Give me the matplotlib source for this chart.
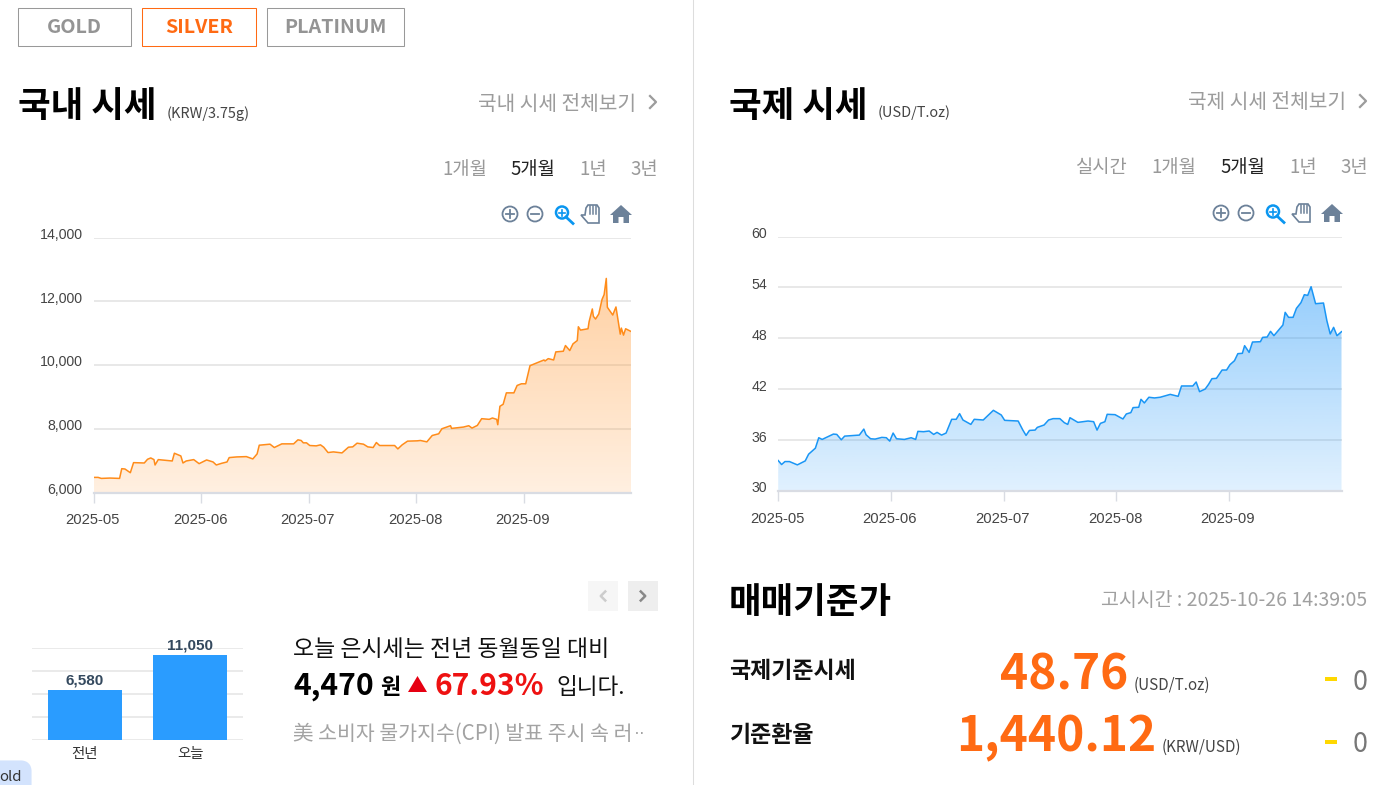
# Silver price page: domestic / international area charts plus comparison bars
import numpy as np
import matplotlib
matplotlib.use('Agg')
import matplotlib.pyplot as plt
from matplotlib.patches import Rectangle, Polygon, Circle, FancyBboxPatch
from matplotlib.transforms import ScaledTranslation

plt.rcParams['font.family'] = ['Noto Sans CJK KR', 'DejaVu Sans']

# ------------------ DATA ------------------
# x is counted in axis months from 2025-05
month_labels = ['2025-05', '2025-06', '2025-07', '2025-08', '2025-09']

krw_x = [0, .04, .07, .15, .24, .26, .29, .34, .37, .47, .50, .53, .56, .57, .60, .73, .75, .78, .81, .83,
         .86, .93, .98, 1.05, 1.11, 1.14, 1.19, 1.24, 1.26, 1.33, 1.42, 1.48, 1.52, 1.54, 1.64, 1.68, 1.75,
         1.86, 1.90, 1.93, 1.95, 1.98, 2.01, 2.07, 2.11, 2.14, 2.18, 2.23, 2.31, 2.37, 2.41, 2.45, 2.51,
         2.55, 2.60, 2.63, 2.66, 2.80, 2.83, 2.87, 2.92, 3.01, 3.04, 3.10, 3.15, 3.21, 3.24, 3.32, 3.33,
         3.44, 3.49, 3.52, 3.57, 3.61, 3.68, 3.71, 3.75, 3.76, 3.78, 3.81, 3.84, 3.91, 3.94, 3.98, 4.02,
         4.06, 4.19, 4.20, 4.23, 4.28, 4.30, 4.37, 4.39, 4.43, 4.46, 4.50, 4.51, 4.53, 4.60, 4.61, 4.64,
         4.65, 4.67, 4.70, 4.73, 4.75, 4.77, 4.78, 4.83, 4.86, 4.90, 4.91, 4.93, 4.95, 5.0]
krw_y = [6474, 6474, 6442, 6453, 6442, 6747, 6737, 6621, 6937, 6926, 7042, 7084, 7032, 6863, 7032, 6989,
         7232, 7189, 7147, 6926, 6989, 7032, 6905, 7021, 6958, 6863, 6916, 6958, 7095, 7116, 7126, 7053,
         7211, 7484, 7516, 7411, 7526, 7526, 7653, 7632, 7558, 7558, 7474, 7463, 7495, 7421, 7253, 7274,
         7242, 7421, 7432, 7547, 7516, 7432, 7411, 7568, 7474, 7474, 7368, 7495, 7611, 7621, 7632, 7589,
         7789, 7842, 8000, 8095, 8011, 8053, 8095, 8021, 8105, 8316, 8295, 8337, 8295, 8126, 8705, 8768,
         9126, 9126, 9358, 9411, 9411, 9979, 10158, 10126, 10200, 10158, 10411, 10432, 10611, 10453,
         10663, 10768, 11200, 11095, 11137, 11358, 11758, 11526, 11442, 11600, 12053, 12211, 12716,
         11811, 11568, 11821, 10968, 11158, 10937, 11137, 11053]

usd_x = [0, .03, .06, .10, .17, .24, .27, .33, .36, .39, .49, .52, .56, .59, .72, .76, .78, .82, .86, .92,
         .96, .99, 1.02, 1.05, 1.12, 1.18, 1.22, 1.24, 1.29, 1.34, 1.38, 1.41, 1.45, 1.49, 1.54, 1.58,
         1.61, 1.64, 1.71, 1.74, 1.82, 1.86, 1.91, 1.98, 2.01, 2.13, 2.17, 2.20, 2.23, 2.28, 2.30, 2.36,
         2.40, 2.44, 2.50, 2.54, 2.57, 2.59, 2.66, 2.75, 2.80, 2.83, 2.86, 2.90, 2.92, 2.99, 3.06, 3.09,
         3.13, 3.15, 3.20, 3.22, 3.25, 3.29, 3.34, 3.39, 3.43, 3.48, 3.55, 3.58, 3.68, 3.71, 3.74, 3.79,
         3.82, 3.85, 3.89, 3.94, 3.98, 4.01, 4.05, 4.08, 4.12, 4.14, 4.18, 4.21, 4.28, 4.30, 4.34, 4.37,
         4.40, 4.48, 4.50, 4.53, 4.57, 4.60, 4.64, 4.67, 4.70, 4.73, 4.77, 4.84, 4.87, 4.90, 4.93, 4.96, 5.0]
usd_y = [33.59, 33.12, 33.47, 33.47, 33.08, 33.55, 34.34, 35.05, 36.28, 36.08, 36.71, 36.67, 36.04, 36.47,
         36.59, 37.30, 36.63, 36.16, 36.12, 36.32, 36.28, 35.88, 36.83, 36.16, 36.08, 36.28, 36.08, 37.03,
         36.99, 37.07, 36.67, 36.91, 36.59, 36.83, 38.45, 38.45, 39.12, 38.37, 37.85, 38.45, 38.37, 38.88,
         39.51, 38.96, 38.33, 38.25, 37.22, 36.55, 37.14, 37.18, 37.50, 37.78, 38.37, 38.53, 38.53, 38.05,
         37.85, 38.64, 38.09, 38.25, 38.17, 37.18, 37.97, 38.17, 39.04, 39.00, 38.49, 39.08, 39.24, 39.83,
         39.87, 40.81, 40.38, 41.05, 40.97, 41.05, 41.20, 41.39, 41.16, 42.38, 42.38, 42.85, 41.71, 42.02,
         42.57, 43.24, 43.28, 44.26, 44.26, 44.89, 45.36, 46.19, 46.23, 47.13, 46.34, 47.56, 47.60, 48.11,
         48.15, 48.82, 48.31, 49.57, 51.06, 50.47, 50.47, 51.53, 52.20, 53.14, 53.06, 54.08, 52.08, 52.16,
         50.08, 48.51, 49.29, 48.31, 48.78]

krw_ticks = [6000, 8000, 10000, 12000, 14000]
usd_ticks = [30, 36, 42, 48, 54, 60]

bar_labels = ['전년', '오늘']
bar_values = [6580, 11050]
bar_ticks = [0, 3000, 6000, 9000, 12000]

W, H = 1387, 785
ORANGE = '#ff6a13'
GRAY = '#999999'
ICON = '#6c8199'
ARIAL = ['Liberation Sans', 'DejaVu Sans']

fig = plt.figure(figsize=(W / 100, H / 100), dpi=100)
fig.patch.set_facecolor('white')


def px_axes(x0, y0, x1, y1):
    return fig.add_axes([x0 / W, 1 - y1 / H, (x1 - x0) / W, (y1 - y0) / H])


# page layer in pixel coordinates
pg = fig.add_axes([0, 0, 1, 1], zorder=5)
pg.set_xlim(0, W)
pg.set_ylim(H, 0)
pg.axis('off')
pg.patch.set_alpha(0)


def txt(x, y, s, px, color='black', weight='normal', ha='left', va='center', family=None):
    kw = {'family': family} if family else {}
    pg.text(x, y, s, fontsize=px * 0.72, color=color, fontweight=weight, ha=ha, va=va, **kw)


def area_chart(box, x, y, ticks, line_c, rgb, a_top, a_bot, fmt):
    ax = px_axes(*box)
    ax.set_xlim(0, 5)
    ax.set_ylim(ticks[0], ticks[-1])
    ax.set_facecolor('none')
    for s in ['top', 'left', 'right']:
        ax.spines[s].set_visible(False)
    ax.spines['bottom'].set_color('#d9dce3')
    ax.spines['bottom'].set_linewidth(1.6)
    ax.grid(axis='y', color='#e2e2e2', lw=1.1, zorder=1)
    ax.set_axisbelow(True)
    ax.set_yticks(ticks)
    ax.set_yticklabels([fmt(t) for t in ticks], family=ARIAL, fontsize=10.2, color='#444444')
    ax.set_xticks(range(5))
    ax.set_xticklabels(month_labels, family=ARIAL, fontsize=10.6, color='#444444')
    ax.tick_params(axis='y', length=0, pad=8)
    ax.tick_params(axis='x', length=7, color='#d9dce3', width=1, pad=8)
    # y labels sit a little above their gridlines
    up = ScaledTranslation(0, 0.04, fig.dpi_scale_trans)
    for lab in ax.get_yticklabels():
        lab.set_transform(lab.get_transform() + up)
    left = ScaledTranslation(-0.01, 0, fig.dpi_scale_trans)
    for lab in ax.get_xticklabels():
        lab.set_transform(lab.get_transform() + left)
    # vertical gradient clipped to the area under the line
    grad = np.zeros((256, 1, 4))
    grad[..., 0], grad[..., 1], grad[..., 2] = rgb
    grad[..., 3] = np.linspace(a_top, a_bot, 256)[:, None]
    im = ax.imshow(grad, extent=[0, 5, ticks[0], max(y)], origin='upper', aspect='auto', zorder=2)
    poly = ax.fill_between(x, y, ticks[0], color='none')
    im.set_clip_path(poly.get_paths()[0], ax.transData)
    ax.set_xlim(0, 5)
    ax.set_ylim(ticks[0], ticks[-1])
    ax.plot(x, y, color=line_c, lw=1.1, zorder=3)
    return ax


def icons(x0, y):
    # zoom in, zoom out, magnifier, hand, home
    for cx, minus in [(x0, False), (x0 + 25, True)]:
        pg.add_patch(Circle((cx, y), 7.5, fill=False, ec=ICON, lw=1.3))
        pg.plot([cx - 4, cx + 4], [y, y], color=ICON, lw=1.3)
        if not minus:
            pg.plot([cx, cx], [y - 4, y + 4], color=ICON, lw=1.3)
    mx = x0 + 52
    pg.add_patch(Circle((mx, y - 1.5), 6, fill=False, ec='#0a96f0', lw=1.8))
    pg.plot([mx + 4, mx + 11], [y + 3, y + 9.5], color='#0a96f0', lw=2)
    pg.plot([mx - 3, mx + 3], [y - 1.5, y - 1.5], color='#0a96f0', lw=1.2)
    pg.plot([mx, mx], [y - 4.5, y + 1.5], color='#0a96f0', lw=1.2)
    hx = x0 + 71
    pg.add_patch(Polygon([(hx, y + 1), (hx + 4, y + 1), (hx + 5, y - 6), (hx + 7, y - 9), (hx + 16, y - 9),
                          (hx + 18, y - 6), (hx + 18, y + 9), (hx + 7, y + 9)], fc='white', ec=ICON, lw=1.2))
    for d in (9, 12, 15):
        pg.plot([hx + d, hx + d], [y - 8, y], color=ICON, lw=1.1)
    hm = x0 + 111
    pg.add_patch(Polygon([(hm - 11, y + 1), (hm, y - 9), (hm + 11, y + 1), (hm + 8, y + 1), (hm + 8, y + 9),
                          (hm + 2.5, y + 9), (hm + 2.5, y + 3), (hm - 2.5, y + 3), (hm - 2.5, y + 9),
                          (hm - 8, y + 9), (hm - 8, y + 1)], fc=ICON, ec='none'))


def chevron(x, y, size, color, lw=1.6, left=False):
    d = -size if left else size
    pg.plot([x - d / 2, x + d / 2, x - d / 2], [y - size, y, y + size], color=color, lw=lw)


# ------------------ TABS ------------------
for x0, x1, name, c in [(18, 131, 'GOLD', '#999999'), (142, 256, 'SILVER', ORANGE), (267, 404, 'PLATINUM', '#999999')]:
    pg.add_patch(Rectangle((x0, 8), x1 - x0, 38, fill=False, ec=c, lw=0.75))
    txt((x0 + x1) / 2, 27.5, name, 19.8, ORANGE if name == 'SILVER' else '#949494', 'bold', ha='center')

pg.plot([692.8, 692.8], [0, H], color='#dddddd', lw=0.75)

# ------------------ HEADERS ------------------
txt(18, 107, '국내 시세', 35.5, weight='bold')
txt(167, 114, '(KRW/3.75g)', 14.5, '#444444')
txt(636, 104, '국내 시세 전체보기', 20.3, '#9c9c9c', ha='right')
chevron(653, 102, 6, '#9c9c9c')
txt(729, 107, '국제 시세', 35.5, weight='bold')
txt(878, 113, '(USD/T.oz)', 14.5, '#444444')
txt(1346, 103, '국제 시세 전체보기', 20.3, '#9c9c9c', ha='right')
chevron(1363, 101, 6, '#9c9c9c')

for x, s, c in [(442, '1개월', GRAY), (510, '5개월', '#222222'), (579, '1년', GRAY), (630, '3년', GRAY)]:
    txt(x, 169, s, 18.7, c)
for x, s, c in [(1076, '실시간', GRAY), (1151, '1개월', GRAY), (1220, '5개월', '#222222'), (1289, '1년', GRAY), (1340, '3년', GRAY)]:
    txt(x, 168, s, 18.7, c)

icons(510, 214)
icons(1221, 213)

# ------------------ AREA CHARTS ------------------
area_chart((93.8, 237.5, 631, 492.5), krw_x, krw_y, krw_ticks, '#ff8c1a', (1.0, 0.62, 0.25), 0.48, 0.16,
           lambda v: f'{v:,}')
area_chart((778.2, 236.5, 1341.5, 491), usd_x, usd_y, usd_ticks, '#1a96f5', (0.15, 0.6, 0.98), 0.48, 0.14,
           lambda v: f'{v}')

# ------------------ BARS ------------------
bx = px_axes(32, 648, 243, 740)
bx.set_facecolor('none')
bx.bar([0, 1], bar_values, width=0.7, color='#2a9cff', zorder=3)
bx.set_xlim(-0.5, 1.5)
bx.set_ylim(0, 12000)
bx.set_yticks(bar_ticks)
bx.set_yticklabels([])
bx.set_xticks([0, 1])
bx.set_xticklabels(bar_labels, fontsize=10.4, color='#333333')
bx.tick_params(length=0, pad=5)
bx.grid(axis='y', color='#e4e4e4', lw=1.1, zorder=1)
for s in bx.spines.values():
    s.set_visible(False)
for i, v in enumerate(bar_values):
    bx.text(i, v + 300, f'{v:,}', ha='center', va='bottom', family=ARIAL, fontsize=11,
            fontweight='bold', color='#34495e')

# ------------------ PAGER + SUMMARY ------------------
pg.add_patch(Rectangle((588, 581), 30, 30, fc='#f6f6f6', ec='none'))
pg.add_patch(Rectangle((628, 581), 30, 30, fc='#eeeeee', ec='none'))
chevron(603, 596, 4.5, '#cccccc', lw=1.8, left=True)
chevron(643, 596, 4.5, '#888888', lw=1.8)

txt(293, 649, '오늘 은시세는 전년 동월동일 대비', 22.9, '#111111')
txt(293, 686, '4,470', 30, 'black', 'bold')
txt(380, 688, '원', 22, 'black', 'bold')
pg.add_patch(Polygon([(408, 692), (417.5, 676), (427, 692)], fc='#e60012', ec='none'))
txt(434, 686, '67.93%', 30, '#ee1111', 'bold')
txt(556, 688, '입니다.', 22.6, '#111111')
txt(293, 734, '美 소비자 물가지수(CPI) 발표 주시 속 러', 20.5, '#a3a3a3')
txt(634, 733, '··', 18, '#a3a3a3', family=ARIAL)

pg.add_patch(FancyBboxPatch((-12, 766), 38, 30, boxstyle='round,pad=0,rounding_size=5', fc='#d3e3fd', ec='#d3e3fd', lw=8,
                            joinstyle='round', clip_on=True))
txt(-1, 777, 'old', 15, '#333333')

# ------------------ BASE PRICE ------------------
txt(729, 603, '매매기준가', 35.5, weight='bold')
txt(1367, 600, '고시시간 : 2025-10-26 14:39:05', 19.5, '#a0a0a0', ha='right')

txt(729, 672, '국제기준시세', 23, '#111111', 'bold')
txt(1128, 675, '48.76', 47.8, ORANGE, 'bold', ha='right')
txt(1134, 685, '(USD/T.oz)', 15.2, '#444444')
txt(729, 735, '기준환율', 23, '#111111', 'bold')
txt(1156, 737, '1,440.12', 47.8, ORANGE, 'bold', ha='right')
txt(1162, 747, '(KRW/USD)', 15.2, '#444444')

for y in (679, 742):
    pg.add_patch(Rectangle((1325, y - 2), 12, 4, fc='#ffd800', ec='none'))
    txt(1360, y + 3, '0', 27, '#777777', ha='center')

fig.savefig('out.png', dpi=100)
